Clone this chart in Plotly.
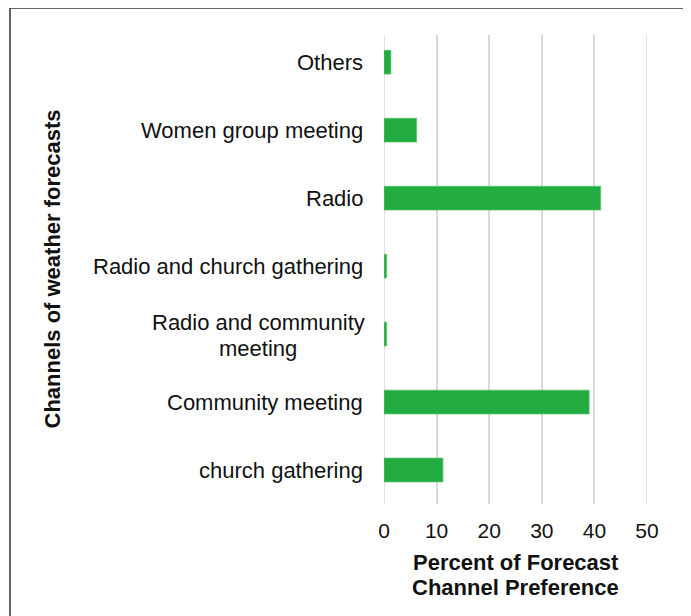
import plotly.graph_objects as go

categories = ["church gathering", "Community meeting", "Radio and community<br>meeting",
              "Radio and church gathering", "Radio", "Women group meeting", "Others"]
values = [11.2, 39.0, 0.5, 0.5, 41.2, 6.2, 1.3]
x_ticks = [0, 10, 20, 30, 40, 50]

FONT = "Liberation Sans, Arial, Helvetica, sans-serif"
# page has an 8px body margin; figure coordinates are page coords minus 8
L, R, T, B = 376, 52, 27, 120
W, H = 691, 616
pw = W - L - R
ph = H - T - B

def px(xp):
    return (xp - L) / pw

def py(yp):
    return (H - B - yp) / ph

fig = go.Figure()
fig.add_trace(go.Bar(
    y=list(range(len(categories))), x=values, orientation="h",
    marker=dict(color="#21AB41", line=dict(color="#5CC46F", width=0.8)),
    width=0.35,
))

annotations = []
for i, c in enumerate(categories):
    if "<br>" in c:
        lines = c.split("<br>")
        for j, ln in enumerate(lines):
            annotations.append(dict(
                x=px(250), y=py(315 + 25 * j), xref="paper", yref="paper", text=ln,
                showarrow=False, xanchor="center", yanchor="middle",
                font=dict(family=FONT, size=22, color="#111111"),
            ))
        continue
    annotations.append(dict(
        x=px(357), y=i, xref="paper", yref="y", text=c, showarrow=False,
        xanchor="right", yanchor="middle", align="center",
        font=dict(family=FONT, size=22, color="#111111"),
    ))
annotations.append(dict(
    x=px(44), y=0.5, xref="paper", yref="paper", text="<b>Channels of weather forecasts</b>",
    textangle=-90, showarrow=False, xanchor="center", yanchor="middle",
    font=dict(family=FONT, size=22, color="#111111"),
))
for txt, yy in [("<b>Percent of Forecast</b>", 554), ("<b>Channel Preference</b>", 579)]:
    annotations.append(dict(
        x=0.5, y=py(yy), xref="paper", yref="paper",
        text=txt, showarrow=False, xanchor="center", yanchor="middle",
        font=dict(family=FONT, size=22, color="#111111"),
    ))

shapes = [dict(type="rect", xref="paper", yref="paper",
               x0=px(2), x1=px(676), y0=py(650), y1=py(0),
               line=dict(color="#333333", width=1.5), layer="above")]
for t in (x_ticks[0], x_ticks[-1]):
    shapes.append(dict(type="line", xref="x", yref="paper", x0=t, x1=t, y0=0, y1=1,
                       line=dict(color="#D9D9D9", width=1.5), layer="below"))

fig.update_layout(
    width=W, height=H,
    margin=dict(l=L, r=R, t=T, b=B),
    paper_bgcolor="white", plot_bgcolor="white",
    showlegend=False,
    font=dict(family=FONT, size=21, color="#111111"),
    annotations=annotations,
    shapes=shapes,
)
fig.update_xaxes(range=[0, 50], tickvals=x_ticks, ticktext=[str(t) for t in x_ticks],
                 showgrid=True, gridcolor="#D9D9D9", gridwidth=1.5, zeroline=False,
                 showline=False, ticks="", ticklen=0, ticklabelstandoff=12,
                 tickfont=dict(family=FONT, size=21, color="#111111"))
fig.update_yaxes(range=[-0.5, 6.4], showticklabels=False, showgrid=False,
                 zeroline=False, showline=False, ticks="")

fig.write_html("out.html")
